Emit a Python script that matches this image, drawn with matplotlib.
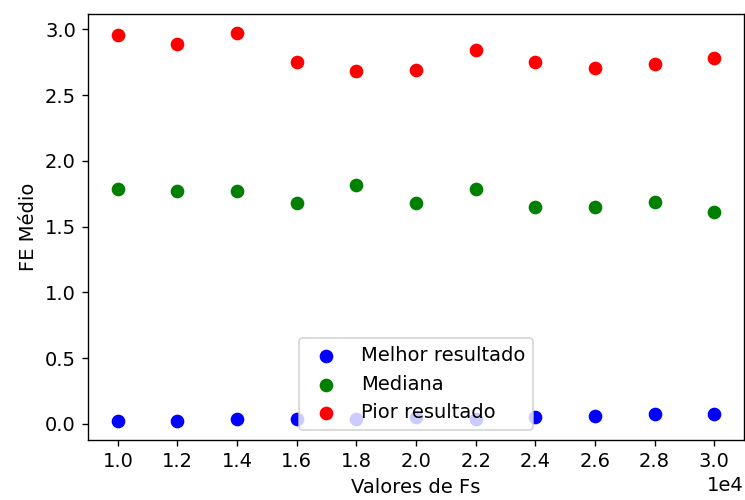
import matplotlib
matplotlib.use("Agg")
import matplotlib.pyplot as plt

# Valores de Fs testados
fs = [10000, 12000, 14000, 16000, 18000, 20000, 22000, 24000, 26000, 28000, 30000]

# FE médio para cada caso
melhor = [0.025, 0.025, 0.04, 0.04, 0.04, 0.055, 0.04, 0.055, 0.06, 0.075, 0.075]
mediana = [1.786, 1.77, 1.77, 1.68, 1.816, 1.68, 1.786, 1.65, 1.65, 1.69, 1.61]
pior = [2.96, 2.89, 2.97, 2.75, 2.68, 2.69, 2.84, 2.75, 2.71, 2.74, 2.78]

plt.rcParams['font.size'] = 11.3

fig = plt.figure(figsize=(745 / 124, 500 / 124), dpi=124)
ax = fig.add_axes([88 / 745, 1 - 440 / 500, (744 - 88) / 745, (440 - 14) / 500])

ax.scatter(fs, melhor, s=48, color='blue', label='Melhor resultado')
ax.scatter(fs, mediana, s=48, color='green', label='Mediana')
ax.scatter(fs, pior, s=48, color='red', label='Pior resultado')

ax.set_xticks(fs)
ax.ticklabel_format(axis='x', style='sci', scilimits=(0, 0))
ax.set_xlabel('Valores de Fs')
ax.set_ylabel('FE Médio')
ax.legend(loc='lower center')

fig.savefig('out.png', dpi=124)
